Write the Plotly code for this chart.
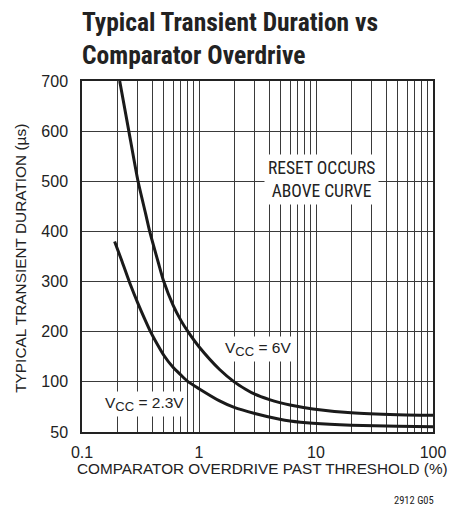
import plotly.graph_objects as go

# ---- data (real values, µs) ----
x_6v = [0.21, 0.25, 0.3, 0.35, 0.38, 0.45, 0.5, 0.6, 0.7, 0.805, 1, 1.5, 2, 2.5, 3, 4, 4.9, 6, 9.4, 20, 50, 100]
y_6v = [700, 603, 502, 435, 399, 337, 300, 253, 222.6, 200, 170, 124.6, 100, 92.7, 87.7, 82.3, 79.3, 76.9, 73, 69.2, 67.3, 66.7]

x_23v = [0.19, 0.22, 0.26, 0.3, 0.35, 0.385, 0.42, 0.5, 0.6, 0.7, 0.8, 1, 1.5, 2, 3, 4.9, 6, 9.4, 20, 50, 100]
y_23v = [380, 340, 293, 257, 221, 200, 183.4, 153, 129, 113.6, 101, 93.2, 81, 74.5, 68.5, 62.7, 61, 58.7, 56.7, 55.7, 55.2]

y_tick_values = [50, 100, 200, 300, 400, 500, 600, 700]
x_major = [0.1, 1, 10, 100]
x_minor_mult = [2, 3, 4, 5, 6, 7, 8, 9]

NARROW = "Liberation Sans Narrow, Arial Narrow, Roboto Condensed, sans-serif"
REG = "Liberation Sans, Arial, Helvetica, sans-serif"
INK = "#222"


def disp(v):
    # the datasheet axis is broken: 50..100 occupies the same height as 100..200
    return v if v >= 100 else 2 * (v - 50)


fig = go.Figure()
for xs, ys in ((x_6v, y_6v), (x_23v, y_23v)):
    fig.add_trace(go.Scatter(x=xs, y=[disp(v) for v in ys], mode="lines",
                             line=dict(color="#1a1a1a", width=3, shape="spline", smoothing=0.6),
                             showlegend=False, hoverinfo="skip"))

xt, xl = [], []
for d in x_major:
    xt.append(d)
    xl.append(f"{d:g}")
    if d < 100:
        for m in x_minor_mult:
            xt.append(d * m)
            xl.append("")

fig.update_xaxes(type="log", range=[-1, 2], tickvals=xt, ticktext=xl,
                 showgrid=True, gridcolor="#3a3a3a", gridwidth=1,
                 showline=True, linecolor=INK, linewidth=1.5, mirror=True,
                 ticks="", zeroline=False, automargin=False, ticklabelstandoff=5,
                 tickfont=dict(family=REG, size=16, color=INK))
fig.update_yaxes(range=[0, 700], tickvals=[disp(v) for v in y_tick_values],
                 ticktext=[str(v) for v in y_tick_values],
                 showgrid=True, gridcolor="#3a3a3a", gridwidth=1,
                 showline=True, linecolor=INK, linewidth=1.5, mirror=True,
                 ticks="", zeroline=False, ticklabelstandoff=9, automargin=False,
                 tickfont=dict(family=REG, size=16, color=INK))

sub = '<sub><span style="font-size:13px">CC</span></sub>'
fig.add_annotation(x=1.05, y=disp(503), xref="x", yref="y",
                   text="RESET OCCURS<br>ABOVE CURVE", showarrow=False,
                   bgcolor="white", font=dict(family=NARROW, size=17.5, color=INK), borderpad=3)
fig.add_annotation(x=0.5, y=disp(165), xref="x", yref="y",
                   text=f"V{sub} = 6V", showarrow=False,
                   bgcolor="white", font=dict(family=REG, size=15.5, color=INK), borderpad=2)
fig.add_annotation(x=-0.462, y=disp(77.5), xref="x", yref="y",
                   text=f"V{sub} = 2.3V", showarrow=False,
                   bgcolor="white", font=dict(family=REG, size=15.5, color=INK), borderpad=2)

# titles
fig.add_annotation(x=-0.006, y=1.217, xref="paper", yref="paper",
                   xanchor="left", yanchor="top", align="left",
                   text="<b>Typical Transient Duration vs<br>Comparator Overdrive</b>",
                   showarrow=False, font=dict(family=NARROW, size=25.5, color=INK))
fig.add_annotation(x=-0.174, y=0.496, xref="paper", yref="paper", textangle=-90,
                   xanchor="center", yanchor="middle",
                   text="TYPICAL TRANSIENT DURATION (µs)", showarrow=False,
                   font=dict(family=REG, size=15.4, color=INK))
fig.add_annotation(x=0.513, y=-0.103, xref="paper", yref="paper",
                   xanchor="center", yanchor="middle",
                   text="COMPARATOR OVERDRIVE PAST THRESHOLD (%)", showarrow=False,
                   font=dict(family=REG, size=15.3, color=INK))
fig.add_annotation(x=1.008, y=-0.194, xref="paper", yref="paper",
                   xanchor="right", yanchor="middle",
                   text="2912 G05", showarrow=False,
                   font=dict(family=NARROW, size=10.5, color=INK))

fig.update_layout(width=449, height=512, margin=dict(l=82, r=16, t=81, b=80),
                  plot_bgcolor="white", paper_bgcolor="white")

fig.write_html("out.html", config={"displayModeBar": False},
               post_script="document.body.style.margin='0px';document.body.style.overflow='hidden';")
